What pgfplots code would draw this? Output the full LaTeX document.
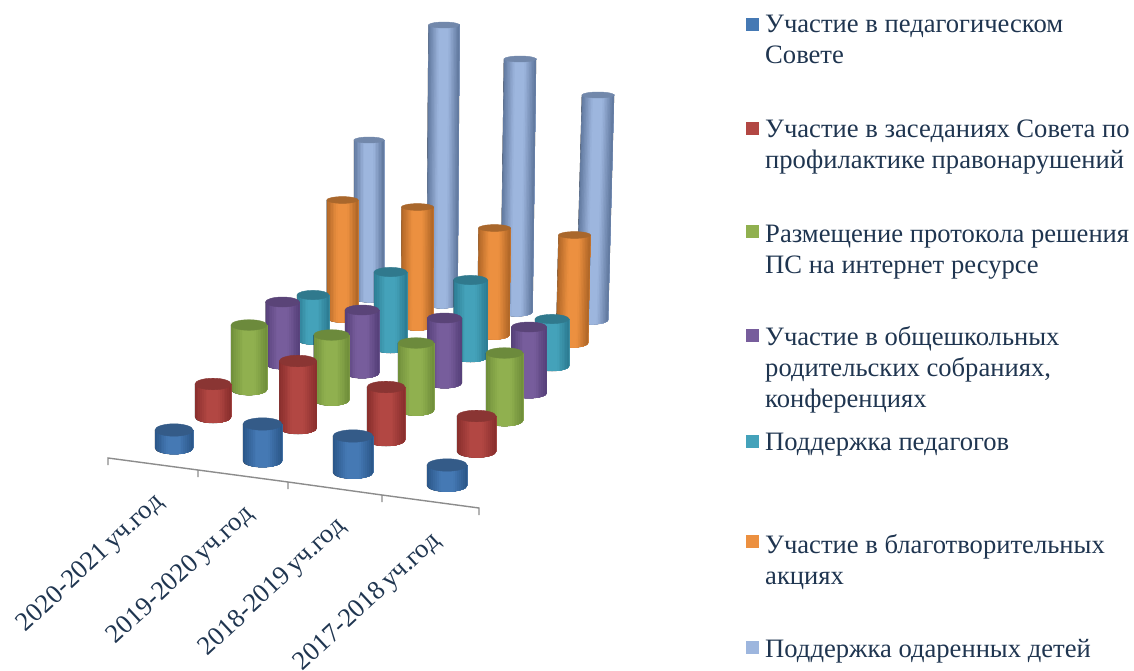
\documentclass[border=0pt]{standalone}
\usepackage{fontspec}
\setmainfont{Liberation Serif}
\usepackage{pgfplots}
\usepackage{pgfplotstable}
\pgfplotsset{compat=1.18}

\definecolor{txt}{HTML}{1F3550}
\definecolor{axisgrey}{HTML}{8C8C8C}
\definecolor{blueE}{HTML}{2A5688}\definecolor{blueM}{HTML}{4579B4}\definecolor{blueT}{HTML}{345B88}
\definecolor{redE}{HTML}{882E2C}\definecolor{redM}{HTML}{B24743}\definecolor{redT}{HTML}{8A3533}
\definecolor{greenE}{HTML}{6F8E3A}\definecolor{greenM}{HTML}{90B04F}\definecolor{greenT}{HTML}{6C8A3C}
\definecolor{purpE}{HTML}{553F78}\definecolor{purpM}{HTML}{775D9C}\definecolor{purpT}{HTML}{5A4478}
\definecolor{tealE}{HTML}{2B7A91}\definecolor{tealM}{HTML}{44A2BA}\definecolor{tealT}{HTML}{30798D}
\definecolor{oranE}{HTML}{AE6526}\definecolor{oranM}{HTML}{EC9040}\definecolor{oranT}{HTML}{A9672C}
\definecolor{lblueE}{HTML}{5F769C}\definecolor{lblueM}{HTML}{9DB6DE}\definecolor{lblueT}{HTML}{7288AB}

\tikzset{
  leg/.style={anchor=base west, inner sep=0pt, text=txt, font=\fontsize{26.6}{30}\selectfont},
  cat/.style={rotate=43, anchor=east, inner sep=0pt, text=txt, font=\fontsize{26.5}{30}\selectfont},
}

% name, edge, middle, top, ry of top, ry of base
\newcommand\defcyl[6]{%
  \pgfdeclareplotmark{cyl#1}{%
    \pgfmathsetmacro\xl{-\rr}\pgfmathsetmacro\xtr{\dx+\rr}\pgfmathsetmacro\xtl{\dx-\rr}%
    \begin{scope}
    \clip (\xl pt,0pt) arc[start angle=180,end angle=360,x radius=\rr pt,y radius=#6pt]
      -- (\xtr pt,\hh pt) -- (\xtl pt,\hh pt) -- cycle;
    % vertical strips, dark at the edges and light in the middle
    \foreach \i in {0,...,19}{%
      \pgfmathsetmacro\tt{(\i+0.5)/20}%
      \pgfmathsetmacro\pct{min(100,(1-abs(2*\tt-1))*100/0.7)}%
      \pgfmathsetmacro\xa{\xl+2*\rr*\i/20}%
      \pgfmathsetmacro\xb{\xtl+2*\rr*\i/20}%
      \pgfmathsetmacro\xc{\xb+2*\rr+1}%
      \pgfmathsetmacro\xd{\xa+2*\rr+1}%
      \pgfmathsetmacro\yb{-#6-1}%
      \fill[#3!\pct!#2] (\xa pt,\yb pt) -- (\xb pt,\hh pt) -- (\xc pt,\hh pt) -- (\xd pt,\yb pt) -- cycle;
    }
    \end{scope}
    \fill[#4] (\dx pt,\hh pt) ellipse[x radius=\rr pt,y radius=#5pt];
  }}
\defcyl{blue}{blueE}{blueM}{blueT}{6.2}{6.2}
\defcyl{red}{redE}{redM}{redT}{5.8}{6}
\defcyl{green}{greenE}{greenM}{greenT}{5.3}{5.6}
\defcyl{purp}{purpE}{purpM}{purpT}{5}{5.2}
\defcyl{teal}{tealE}{tealM}{tealT}{4.6}{5}
\defcyl{oran}{oranE}{oranM}{oranT}{3.4}{4.5}
\defcyl{lblue}{lblueE}{lblueM}{lblueT}{3}{4.3}

% x, y of the base (picture pixels), lean of the top, height, radius
\pgfplotstableread{
x     y     dx    h    r
174   448   0     18   19
262.5 461   0     37   19.5
353   472.5 0     36.5 20
447   485.5 0     20.5 20
}\tblue
\pgfplotstableread{
x     y     dx    h    r
213   417   0     33   18
298   428   0     67   18.7
386   440   0     53   19
476.5 451.5 0     35.5 19.5
}\tred
\pgfplotstableread{
x     y     dx    h    r
249   389.5 0     64.5 18
331.5 400   0     65   17.7
416   410   0     67   18
504.5 420.5 0     67.5 18.5
}\tgreen
\pgfplotstableread{
x     y     dx    h    r
282.5 364   0     62   17
362   373   0     63   17
444.5 383   0     65   17.3
529   393   0     66   17.7
}\tpurp
\pgfplotstableread{
x     y     dx    h    r
313   339.5 0     44.5 16
390.5 348   0     76   16.5
470.5 357   0     77   17
552   366   0     47   17
}\tteal
\pgfplotstableread{
x     y     dx    h    r
342.5 318   0     118  15.7
417   326   0.5   119  16
493.5 335   1     107  16
572   343   2.5   108  16
}\toran
\pgfplotstableread{
x     y     dx    h    r
369   298   0     158  15
442   304   2     279  15.5
516.5 312   3.5   253  16
592   320   6     225  16
}\tlblue

\newcommand\cylseries[2]{\addplot[scatter, only marks, mark=cyl#1,
    scatter/@pre marker code/.code={\pgfscope},
    scatter/@post marker code/.code={\endpgfscope},
    visualization depends on={\thisrow{dx}\as\dx},
    visualization depends on={\thisrow{h}\as\hh},
    visualization depends on={\thisrow{r}\as\rr}]
    table[x=x,y=y] {#2};}

\begin{document}
\begin{tikzpicture}
\path[use as bounding box] (0,0) rectangle (1134pt,671pt);
\begin{axis}[
  at={(0,0)}, anchor=south west,
  width=1134pt, height=671pt, scale only axis,
  xmin=0, xmax=1134, ymin=0, ymax=671, y dir=reverse,
  hide axis, clip=false,
]
% axis line with its ticks
\addplot[axisgrey, line width=1.4pt, mark=none] coordinates {
  (108,465) (108,458) (198,470) (198,477) (198,470) (288,482) (288,489) (288,482)
  (382,495) (382,502) (382,495) (479,508) (479,515)};

\cylseries{lblue}{\tlblue}
\cylseries{oran}{\toran}
\cylseries{teal}{\tteal}
\cylseries{purp}{\tpurp}
\cylseries{green}{\tgreen}
\cylseries{red}{\tred}
\cylseries{blue}{\tblue}

% legend keys
\addplot[only marks, mark=square*, mark size=6pt, color=blueM] coordinates {(752,24)};
\addplot[only marks, mark=square*, mark size=6pt, color=redM] coordinates {(752,128)};
\addplot[only marks, mark=square*, mark size=6pt, color=greenM] coordinates {(752,231)};
\addplot[only marks, mark=square*, mark size=6pt, color=purpM] coordinates {(752,335)};
\addplot[only marks, mark=square*, mark size=6pt, color=tealM] coordinates {(752,441)};
\addplot[only marks, mark=square*, mark size=6pt, color=oranM] coordinates {(752,541)};
\addplot[only marks, mark=square*, mark size=6pt, color=lblueM] coordinates {(752,647)};

\node[leg] at (axis cs:765,33) {Участие в педагогическом};
\node[leg] at (axis cs:765,64) {Совете};
\node[leg] at (axis cs:765,138) {Участие в заседаниях Совета по};
\node[leg] at (axis cs:765,169) {профилактике правонарушений};
\node[leg] at (axis cs:765,242) {Размещение протокола решения};
\node[leg] at (axis cs:765,273) {ПС на интернет ресурсе};
\node[leg] at (axis cs:765,345) {Участие в общешкольных};
\node[leg] at (axis cs:765,376) {родительских собраниях,};
\node[leg] at (axis cs:765,407) {конференциях};
\node[leg] at (axis cs:765,450) {Поддержка педагогов};
\node[leg] at (axis cs:765,553) {Участие в благотворительных};
\node[leg] at (axis cs:765,584) {акциях};
\node[leg] at (axis cs:765,657) {Поддержка одаренных детей};

\node[cat] at (axis cs:160,499) {2020-2021\,уч.год};
\node[cat] at (axis cs:250,511) {2019-2020\,уч.год};
\node[cat] at (axis cs:342,523) {2018-2019\,уч.год};
\node[cat] at (axis cs:437,538) {2017-2018\,уч.год};
\end{axis}
\end{tikzpicture}
\end{document}
